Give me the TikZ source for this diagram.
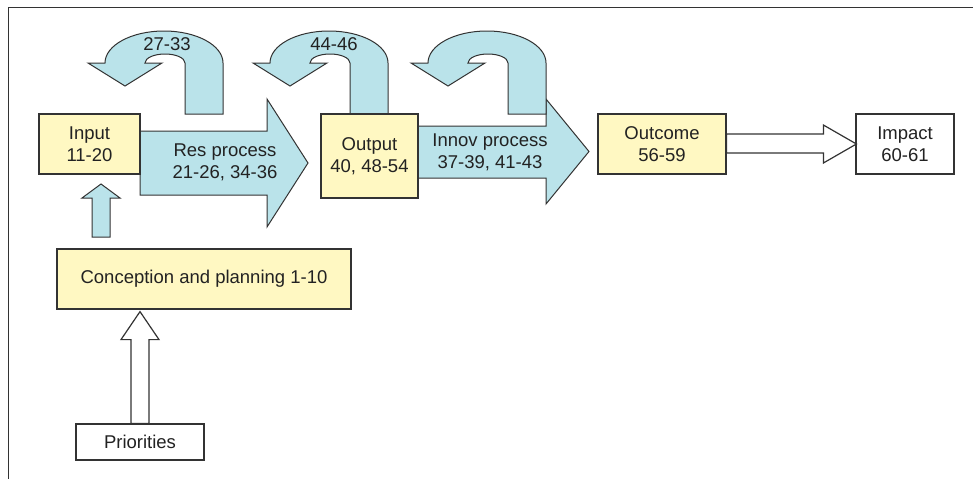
\documentclass[tikz,border=0pt]{standalone}
\usepackage{fontspec}
\setmainfont{Liberation Sans}
\usetikzlibrary{calc}
\definecolor{boxyellow}{HTML}{FFF8C2}
\definecolor{flowblue}{HTML}{BAE3EA}
\definecolor{inkgray}{HTML}{333333}
\definecolor{txtgray}{HTML}{222222}
\begin{document}
\begin{tikzpicture}[x=1pt,y=-1pt,
  every node/.style={font=\fontsize{18.5}{22}\selectfont, text=txtgray, align=center, inner sep=0pt},
  ybox/.style={draw=inkgray, line width=1.2pt, fill=boxyellow, minimum width=#1},
  wbox/.style={draw=inkgray, line width=1.2pt, fill=white, minimum width=#1},
  bluearrow/.style={draw=inkgray, line width=1pt, fill=flowblue, line join=miter},
  whitearrow/.style={draw=inkgray, line width=1.2pt, fill=white, line join=miter},
  frameline/.style={draw=inkgray, line width=1.5pt}
]
\useasboundingbox (0,0) rectangle (973,479);
% frame
\draw[frameline] (8,7.5) -- (973,7.5);
\draw[frameline] (8.5,7) -- (8.5,479);

% boxes (positions)
\path (89.5,144) node[ybox=101pt, minimum height=60pt] (input) {Input\\11-20};
\path (369.5,156) coordinate (outputc);
\path (662,144) coordinate (outcomec);

% blue flow arrows (drawn beneath boxes)
\draw[bluearrow] (140,131) -- (267,131) -- (267,99) -- (308,163) -- (267,227) -- (267,195) -- (140,195) -- cycle;
\draw[bluearrow] (418,126) -- (546,126) -- (546,99) -- (589,151.5) -- (546,204) -- (546,178) -- (418,178) -- cycle;

% U-turn arrows
\foreach \dx in {0,165,323}{
  \draw[bluearrow] (223+\dx,114) -- (223+\dx,63)
    arc[start angle=0,end angle=180,x radius=59pt,y radius=32pt]
    -- (88+\dx,63) -- (125+\dx,86) -- (162+\dx,63) -- (145+\dx,63)
    arc[start angle=180,end angle=0,x radius=20pt,y radius=9pt]
    -- (185+\dx,114) -- cycle;
}
\node (lab1) at (167,44) {27-33};
\node (lab2) at (334,44) {44-46};

% redraw input box on top
\node[ybox=101pt, minimum height=60pt] (input) at (89.5,144) {Input\\11-20};
\node[ybox=97pt, minimum height=84pt] (output) at (outputc) {Output\\40, 48-54};
\node[ybox=128pt, minimum height=60pt] (outcome) at (outcomec) {Outcome\\56-59};
\node[wbox=98pt, minimum height=60pt] (impact) at (905,144) {Impact\\60-61};
\node[ybox=294pt, minimum height=60pt] (concept) at (204,279) {Conception and planning 1-10};
\node[wbox=128pt, minimum height=36pt] (prior) at (140,442) {Priorities};

% arrow texts
\node (res) at (225,162) {Res process\\21-26, 34-36};
\node (innov) at (490,152) {Innov process\\37-39, 41-43};

% small blue arrow concept -> input
\draw[bluearrow] (92,237) -- (92,198) -- (82,198) -- (101,184) -- (120,198) -- (110,198) -- (110,237) -- cycle;

% white arrow priorities -> concept
\draw[whitearrow] ($(prior.north)+(-9,0)$) -- ($(prior.north |- concept.south)+(-9,30)$)
  -- ($(prior.north |- concept.south)+(-19,30)$) -- ($(prior.north |- concept.south)+(0,2)$)
  -- ($(prior.north |- concept.south)+(19,30)$) -- ($(prior.north |- concept.south)+(9,30)$)
  -- ($(prior.north)+(9,0)$) -- cycle;

% white arrow outcome -> impact
\draw[whitearrow] ($(outcome.east)+(0,-10)$) -- ($(impact.west)+(-32,-10)$)
  -- ($(impact.west)+(-32,-19)$) -- ($(impact.west)+(1,0)$)
  -- ($(impact.west)+(-32,19)$) -- ($(impact.west)+(-32,9)$)
  -- ($(outcome.east)+(0,9)$) -- cycle;
\end{tikzpicture}
\end{document}
